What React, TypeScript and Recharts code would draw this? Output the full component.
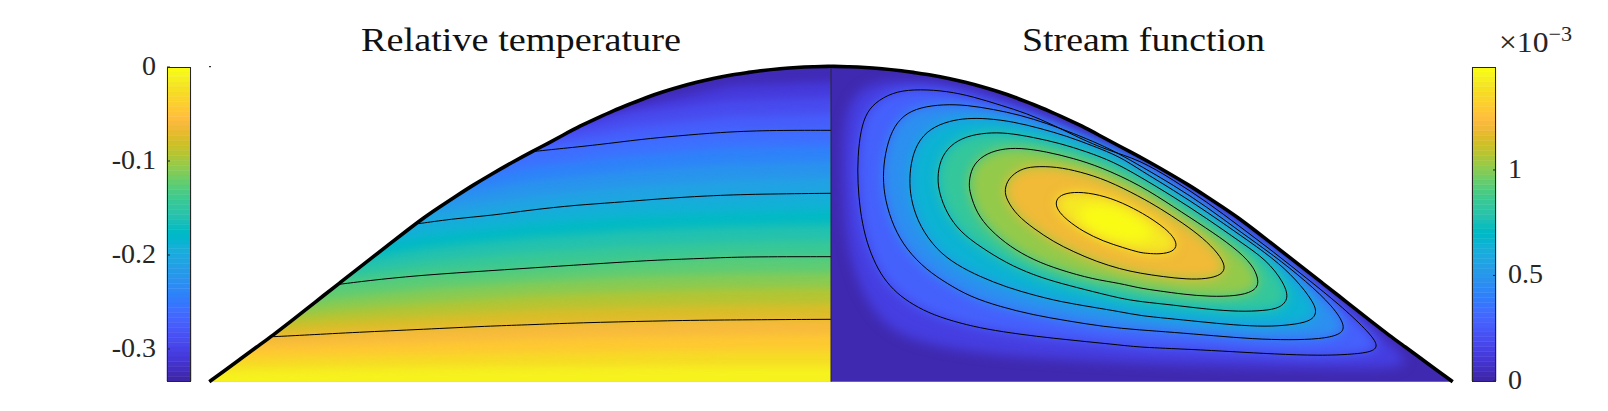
import React from 'react';
import { BarChart, Bar, ScatterChart, Scatter, XAxis, YAxis, Curve } from 'recharts';

type Pair = number[];
const FONT = '"Liberation Serif", serif';
const INK = '#262626';

// parula, as MATLAB ships it
const parula: Pair[] = [
  [0.2422, 0.1504, 0.6603], [0.2504, 0.165, 0.7076], [0.2578, 0.1818, 0.7511], [0.2647, 0.1978, 0.7952],
  [0.2706, 0.2147, 0.8364], [0.2751, 0.2342, 0.871], [0.2783, 0.2559, 0.8991], [0.2803, 0.2782, 0.9221],
  [0.2813, 0.3006, 0.9414], [0.281, 0.3228, 0.9579], [0.2795, 0.3447, 0.9717], [0.276, 0.3667, 0.9829],
  [0.2699, 0.3892, 0.9906], [0.2602, 0.4123, 0.9952], [0.244, 0.4358, 0.9988], [0.2206, 0.4603, 0.9973],
  [0.1963, 0.4847, 0.9892], [0.1834, 0.5074, 0.9798], [0.1786, 0.5289, 0.9682], [0.1764, 0.5499, 0.952],
  [0.1687, 0.5703, 0.9359], [0.154, 0.5902, 0.9218], [0.146, 0.6091, 0.9079], [0.138, 0.6276, 0.8973],
  [0.1248, 0.6459, 0.8883], [0.1113, 0.6635, 0.8763], [0.0952, 0.6798, 0.8598], [0.0689, 0.6948, 0.8394],
  [0.0297, 0.7082, 0.8163], [0.0036, 0.7203, 0.7917], [0.0067, 0.7312, 0.766], [0.0433, 0.7411, 0.7394],
  [0.0964, 0.75, 0.712], [0.1408, 0.7584, 0.6842], [0.1717, 0.767, 0.6554], [0.1938, 0.7758, 0.6251],
  [0.2161, 0.7843, 0.5923], [0.247, 0.7918, 0.5567], [0.2906, 0.7973, 0.5188], [0.3406, 0.8008, 0.4789],
  [0.3909, 0.8029, 0.4354], [0.4456, 0.8024, 0.3909], [0.5044, 0.7993, 0.348], [0.5616, 0.7942, 0.3045],
  [0.6174, 0.7876, 0.2612], [0.672, 0.7793, 0.2227], [0.7242, 0.7698, 0.191], [0.7738, 0.7598, 0.1646],
  [0.8203, 0.7498, 0.1535], [0.8634, 0.7406, 0.1596], [0.9035, 0.733, 0.1774], [0.9393, 0.7288, 0.21],
  [0.9728, 0.7298, 0.2394], [0.9956, 0.7434, 0.2371], [0.997, 0.7659, 0.2199], [0.9952, 0.7861, 0.1991],
  [0.9892, 0.8086, 0.1817], [0.9786, 0.8323, 0.1641], [0.9676, 0.8555, 0.148], [0.961, 0.8787, 0.1347],
  [0.9597, 0.906, 0.1423], [0.9628, 0.9373, 0.1265], [0.9691, 0.9606, 0.1064], [0.9769, 0.9839, 0.0805],
];

// upper boundary of the domain, left half (the right half mirrors it)
const domeLeft: Pair[] = [
  [-6.217, 0], [-6.077, 0.1], [-5.91, 0.224], [-5.743, 0.347], [-5.577, 0.467], [-5.41, 0.597], [-5.243, 0.727],
  [-5.077, 0.86], [-4.91, 0.99], [-4.743, 1.12], [-4.577, 1.25], [-4.41, 1.38], [-4.243, 1.51], [-4.077, 1.637],
  [-3.91, 1.75], [-3.743, 1.86], [-3.577, 1.967], [-3.41, 2.067], [-3.177, 2.2], [-2.993, 2.3], [-2.843, 2.377],
  [-2.677, 2.467], [-2.51, 2.557], [-2.343, 2.634], [-2.177, 2.71], [-2.01, 2.777], [-1.843, 2.844], [-1.677, 2.9],
  [-1.51, 2.95], [-1.343, 2.994], [-1.177, 3.034], [-1.01, 3.067], [-0.843, 3.09], [-0.677, 3.114], [-0.51, 3.13],
  [-0.343, 3.144], [-0.177, 3.15], [0, 3.154],
];

// temperature isotherm heights at these stations, dome top to floor
const isoStations = [0, -1, -2, -3, -4, -5, -6.4];
const isoHeights: number[][] = [
  [2.995, 2.96, 2.75, 2.5, 2.1, 1.6, 1.0],
  [2.84, 2.81, 2.68, 2.45, 2.1, 1.6, 1.0],
  [2.68, 2.65, 2.55, 2.38, 2.05, 1.6, 1.0],
  [2.514, 2.5, 2.413, 2.31, 2.02, 1.55, 1.0],
  [2.355, 2.34, 2.26, 2.15, 1.95, 1.5, 1.0],
  [2.2, 2.18, 2.11, 2.01, 1.84, 1.45, 0.95],
  [2.04, 2.02, 1.96, 1.86, 1.72, 1.42, 0.9],
  [1.884, 1.844, 1.804, 1.717, 1.6, 1.35, 0.9],
  [1.725, 1.7, 1.66, 1.58, 1.47, 1.28, 0.85],
  [1.57, 1.55, 1.51, 1.44, 1.34, 1.18, 0.8],
  [1.41, 1.39, 1.35, 1.29, 1.2, 1.06, 0.75],
  [1.25, 1.244, 1.2, 1.134, 1.074, 0.98, 0.7],
  [1.09, 1.08, 1.05, 1.0, 0.93, 0.83, 0.6],
  [0.94, 0.93, 0.9, 0.86, 0.79, 0.71, 0.55],
  [0.78, 0.77, 0.75, 0.72, 0.66, 0.6, 0.5],
  [0.624, 0.62, 0.6, 0.573, 0.53, 0.484, 0.42],
  [0.47, 0.465, 0.45, 0.43, 0.4, 0.37, 0.33],
  [0.31, 0.31, 0.3, 0.285, 0.27, 0.25, 0.22],
  [0.155, 0.155, 0.15, 0.145, 0.14, 0.13, 0.11],
];

// the four drawn temperature contours
const tempLine1: Pair[] = [[-2.993, 2.3], [-2.743, 2.327], [-2.343, 2.367], [-1.877, 2.427], [-1.543, 2.457], [-1.11, 2.494], [-0.643, 2.514], [0, 2.514]];
const tempLine2: Pair[] = [[-4.127, 1.58], [-3.743, 1.634], [-3.41, 1.66], [-3.01, 1.717], [-2.543, 1.767], [-2.177, 1.79], [-1.743, 1.827], [-1.243, 1.86], [-0.71, 1.877], [0, 1.884]];
const tempLine3: Pair[] = [[-4.917, 0.974], [-4.577, 1.017], [-4.077, 1.067], [-3.41, 1.11], [-2.81, 1.15], [-2.177, 1.19], [-1.743, 1.217], [-1.243, 1.234], [-0.877, 1.25], [0, 1.25]];
const tempLine4: Pair[] = [[-5.577, 0.45], [-5.243, 0.467], [-4.743, 0.494], [-4.077, 0.524], [-3.41, 0.557], [-3.077, 0.567], [-2.51, 0.59], [-1.743, 0.607], [-1.243, 0.617], [0, 0.624]];

// faint shading level outside the first drawn stream contour
const streamShade: Pair[] = [
  [0.12, 2.0], [0.12, 2.6], [0.25, 2.95], [0.7, 3.04], [1.4, 2.95], [2.2, 2.65], [3.09, 2.25], [3.76, 1.85], [4.42, 1.36],
  [5.09, 0.82], [5.6, 0.38], [5.85, 0.14], [5.3, 0.13], [4.4, 0.14], [3.4, 0.17], [2.4, 0.22], [1.6, 0.27], [1.0, 0.36],
  [0.6, 0.5], [0.35, 0.8], [0.2, 1.2], [0.14, 1.6],
];

const stream1: Pair[] = [
  [0.267, 1.984], [0.267, 2.25], [0.297, 2.517], [0.357, 2.7], [0.473, 2.817], [0.657, 2.907], [0.89, 2.924], [1.157, 2.907],
  [1.423, 2.85], [1.69, 2.767], [1.957, 2.684], [2.223, 2.567], [2.49, 2.434], [2.757, 2.317], [3.09, 2.217], [3.423, 2.017],
  [3.757, 1.8], [4.09, 1.55], [4.423, 1.3], [4.757, 1.034], [5.09, 0.767], [5.357, 0.517], [5.477, 0.367], [5.423, 0.3],
  [5.223, 0.274], [4.89, 0.26], [4.423, 0.277], [4.023, 0.3], [3.59, 0.324], [3.09, 0.344], [2.89, 0.367], [2.557, 0.4],
  [2.223, 0.434], [1.89, 0.474], [1.557, 0.524], [1.29, 0.584], [1.023, 0.667], [0.823, 0.767], [0.657, 0.884], [0.523, 1.034],
  [0.423, 1.217], [0.34, 1.45], [0.29, 1.717],
];
const stream2: Pair[] = [
  [0.517, 2.05], [0.54, 2.284], [0.607, 2.517], [0.723, 2.667], [0.89, 2.744], [1.123, 2.774], [1.357, 2.767], [1.623, 2.724],
  [1.89, 2.667], [2.157, 2.584], [2.423, 2.484], [2.69, 2.374], [2.89, 2.274], [3.09, 2.16], [3.423, 1.967], [3.757, 1.75],
  [4.09, 1.5], [4.423, 1.267], [4.757, 1.0], [5.023, 0.75], [5.15, 0.55], [5.09, 0.467], [4.89, 0.427], [4.59, 0.417],
  [4.223, 0.427], [3.823, 0.46], [3.423, 0.494], [3.09, 0.517], [2.723, 0.55], [2.357, 0.61], [2.023, 0.667], [1.69, 0.75],
  [1.39, 0.85], [1.157, 0.984], [0.957, 1.117], [0.757, 1.317], [0.623, 1.55], [0.54, 1.817],
];
const stream3: Pair[] = [
  [0.783, 1.984], [0.797, 2.184], [0.857, 2.384], [0.99, 2.534], [1.19, 2.61], [1.357, 2.634], [1.557, 2.634], [1.823, 2.6],
  [2.09, 2.534], [2.357, 2.457], [2.623, 2.357], [2.89, 2.25], [3.09, 2.117], [3.423, 1.917], [3.757, 1.7], [4.09, 1.467],
  [4.423, 1.234], [4.657, 1.017], [4.823, 0.8], [4.863, 0.684], [4.79, 0.6], [4.59, 0.567], [4.357, 0.55], [4.023, 0.567],
  [3.69, 0.6], [3.357, 0.634], [3.09, 0.66], [2.89, 0.7], [2.623, 0.744], [2.29, 0.8], [2.023, 0.867], [1.757, 0.944],
  [1.49, 1.05], [1.257, 1.167], [1.057, 1.317], [0.89, 1.55], [0.807, 1.784],
];
const stream4: Pair[] = [
  [1.063, 2.034], [1.09, 2.217], [1.19, 2.367], [1.357, 2.457], [1.557, 2.49], [1.757, 2.49], [2.023, 2.444], [2.29, 2.384],
  [2.557, 2.3], [2.823, 2.2], [3.09, 2.05], [3.423, 1.85], [3.757, 1.634], [4.09, 1.4], [4.357, 1.217], [4.523, 1.0],
  [4.583, 0.834], [4.49, 0.734], [4.323, 0.71], [4.09, 0.7], [3.757, 0.724], [3.423, 0.767], [3.09, 0.8], [2.89, 0.834],
  [2.623, 0.9], [2.29, 0.984], [2.023, 1.067], [1.757, 1.184], [1.49, 1.35], [1.29, 1.5], [1.157, 1.684], [1.083, 1.884],
];
const stream5: Pair[] = [
  [1.377, 1.984], [1.407, 2.15], [1.523, 2.267], [1.69, 2.327], [1.89, 2.34], [2.157, 2.3], [2.423, 2.234], [2.69, 2.15],
  [3.09, 1.967], [3.423, 1.75], [3.757, 1.534], [4.023, 1.35], [4.223, 1.167], [4.29, 0.984], [4.223, 0.9], [4.057, 0.857],
  [3.79, 0.85], [3.523, 0.874], [3.29, 0.907], [3.09, 0.934], [2.89, 0.984], [2.623, 1.024], [2.29, 1.117], [2.023, 1.217],
  [1.79, 1.35], [1.59, 1.517], [1.457, 1.684], [1.39, 1.884],
];
const stream6: Pair[] = [
  [1.733, 1.917], [1.773, 2.034], [1.89, 2.124], [2.023, 2.154], [2.257, 2.15], [2.49, 2.1], [2.757, 2.017], [3.09, 1.85],
  [3.29, 1.734], [3.523, 1.584], [3.723, 1.434], [3.873, 1.284], [3.95, 1.15], [3.907, 1.067], [3.757, 1.027], [3.557, 1.024],
  [3.323, 1.05], [3.09, 1.084], [2.89, 1.127], [2.657, 1.2], [2.423, 1.3], [2.223, 1.4], [2.023, 1.534], [1.857, 1.667], [1.757, 1.817],
];
const stream7: Pair[] = [
  [2.243, 1.8], [2.29, 1.867], [2.423, 1.9], [2.623, 1.884], [2.857, 1.817], [3.09, 1.7], [3.223, 1.617], [3.34, 1.534],
  [3.423, 1.45], [3.463, 1.367], [3.423, 1.3], [3.29, 1.274], [3.157, 1.284], [3.09, 1.29], [2.923, 1.34], [2.723, 1.404],
  [2.523, 1.5], [2.357, 1.617], [2.263, 1.717],
];
const streamPeak: Pair[] = [[2.4, 1.72], [2.7, 1.8], [3.05, 1.66], [3.3, 1.44], [3.0, 1.38], [2.6, 1.5]];

const tempTicks = [0, -0.1, -0.2, -0.3];
const streamTicks = [0, 0.5, 1];
const TEMP_MIN = -0.3346;
const STREAM_MAX = 1.488;

const toPts = (pairs: Pair[]) => pairs.map(([x, y]) => ({ x, y }));

const colourAt = (f: number) => {
  const pos = Math.min(Math.max(f, 0), 1) * (parula.length - 1);
  const i = Math.min(Math.floor(pos), parula.length - 2);
  const t = pos - i;
  const c = [0, 1, 2].map((n) => Math.round(255 * (parula[i][n] * (1 - t) + parula[i + 1][n] * t)));
  return `rgb(${c[0]},${c[1]},${c[2]})`;
};

const domeRight = [...domeLeft].reverse().map(([x, y]) => [-x, y]);
const noDot = () => <g />;

// a closed filled region, clipped to one half of the dome
const region = (key: string, pairs: Pair[], fill: string, clip: string, blur: string | null, type: string) => (
  <Scatter
    key={key}
    data={toPts(pairs)}
    shape={noDot}
    isAnimationActive={false}
    line={(p: any) => (
      <g clipPath={`url(#${clip})`}>
        <g filter={blur ? `url(#${blur})` : undefined}>
          <Curve type={type as any} points={p.points} fill={fill} stroke="none" />
        </g>
      </g>
    )}
  />
);

const outline = (key: string, pairs: Pair[], width: number, type: string, stroke = '#000') => (
  <Scatter
    key={key}
    data={toPts(pairs)}
    shape={noDot}
    isAnimationActive={false}
    line={(p: any) => <Curve type={type as any} points={p.points} fill="none" stroke={stroke} strokeWidth={width} />}
  />
);

const clipShape = (id: string, pairs: Pair[]) => (
  <Scatter
    key={id}
    data={toPts(pairs)}
    shape={noDot}
    isAnimationActive={false}
    line={(p: any) => (
      <clipPath id={id}>
        <Curve type="linearClosed" points={p.points} />
      </clipPath>
    )}
  />
);

const blurFilter = (id: string, sd: number) => (
  <filter id={id} filterUnits="userSpaceOnUse" x="0" y="0" width="1608" height="411" colorInterpolationFilters="sRGB">
    <feGaussianBlur stdDeviation={sd} />
  </filter>
);

const isoPolygon = (row: number[]): Pair[] => [
  [0.3, row[0]],
  ...row.map((y, i) => [isoStations[i], y]),
  [-6.4, -0.2],
  [0.3, -0.2],
];

const streamLevels: { pts: Pair[]; f: number; blur: string }[] = [
  { pts: streamShade, f: 0.085, blur: 'blurR' },
  { pts: stream1, f: 0.185, blur: 'blurR' },
  { pts: stream2, f: 0.3125, blur: 'blurR' },
  { pts: stream3, f: 0.4375, blur: 'blurR' },
  { pts: stream4, f: 0.5625, blur: 'blurR' },
  { pts: stream5, f: 0.6875, blur: 'blurR' },
  { pts: stream6, f: 0.8125, blur: 'blurR' },
  { pts: stream7, f: 0.955, blur: 'blurR' },
  { pts: streamPeak, f: 1, blur: 'blurR' },
];

const barKeys = parula.map((_, i) => `s${i}`);
const tempRow = [Object.fromEntries(barKeys.map((k) => [k, TEMP_MIN / parula.length]))];
const streamRow = [Object.fromEntries(barKeys.map((k) => [k, STREAM_MAX / parula.length]))];

const tickFont = { fontSize: 28, fontFamily: FONT, fill: INK, dy: -2 };

const box = (left: number, top: number, width: number, height: number) => (
  <div style={{ position: 'absolute', left, top, width, height, border: `1px solid ${INK}`, boxSizing: 'border-box' }} />
);

export default function App() {
  return (
    <div style={{ position: 'absolute', left: 0, top: 0, width: 1608, height: 411, overflow: 'hidden', background: '#fff' }}>
      <div style={{ position: 'absolute', left: 0, top: 0 }}>
        <ScatterChart width={1608} height={411} margin={{ left: 181, right: 127, top: 51.7, bottom: 9.3 }}>
          <defs>
            {blurFilter('blurL', 4.5)}
            {blurFilter('blurR', 6)}
          </defs>
          <XAxis type="number" dataKey="x" domain={[-6.5, 6.5]} hide />
          <YAxis type="number" dataKey="y" domain={[-0.2, 3.3]} hide />
          {clipShape('halfL', [...domeLeft, [0, 0]])}
          {clipShape('halfR', [...domeRight, [0, 0]])}
          {region('baseL', [[-6.5, -0.2], [-6.5, 3.3], [0.3, 3.3], [0.3, -0.2]], colourAt(0.02), 'halfL', null, 'linearClosed')}
          {isoHeights.map((row, k) =>
            region(`iso${k}`, isoPolygon(row), colourAt((k + 1.5) / 20), 'halfL', 'blurL', 'linearClosed'),
          )}
          {region('baseR', [[-0.3, -0.2], [-0.3, 3.3], [6.5, 3.3], [6.5, -0.2]], colourAt(0.01), 'halfR', null, 'linearClosed')}
          {streamLevels.map((lv, k) => region(`st${k}`, lv.pts, colourAt(lv.f), 'halfR', lv.blur, 'basisClosed'))}
          {[tempLine1, tempLine2, tempLine3, tempLine4].map((l, k) => outline(`tl${k}`, l, 1, 'basis'))}
          {[stream1, stream2, stream3, stream4, stream5, stream6, stream7].map((l, k) =>
            outline(`sl${k}`, l, 1, 'basisClosed'),
          )}
          {outline('axisLine', [[0, 0], [0, 3.154]], 1, 'linear', INK)}
          {outline('domeL', domeLeft, 3.6, 'basis')}
          {outline('domeR', domeRight, 3.6, 'basis')}
          {outline('cornerTick', [[-6.22, 3.15], [-6.2, 3.15]], 1, 'linear')}
          <text x={361} y={51} fontFamily={FONT} fontSize={33} fill="#111" textLength={320} lengthAdjust="spacingAndGlyphs">
            Relative temperature
          </text>
          <text x={1022} y={51} fontFamily={FONT} fontSize={33} fill="#111" textLength={243} lengthAdjust="spacingAndGlyphs">
            Stream function
          </text>
          <text x={1499} y={52} fontFamily={FONT} fontSize={30} fill={INK} textLength={73} lengthAdjust="spacingAndGlyphs">
            ×10<tspan dy={-11} fontSize={21}>−3</tspan>
          </text>
        </ScatterChart>
      </div>

      <div style={{ position: 'absolute', left: 0, top: 0 }}>
        <BarChart
          width={300}
          height={411}
          data={tempRow}
          barCategoryGap={0}
          margin={{ left: 107, right: 109, top: 67, bottom: 29.5 }}
        >
          <XAxis hide />
          <YAxis
            type="number"
            width={60}
            domain={[TEMP_MIN, 0]}
            ticks={tempTicks}
            interval={0}
            allowDataOverflow
            axisLine={false}
            tickSize={-3}
            tickMargin={14}
            tickLine={{ stroke: INK }}
            tick={tickFont}
          />
          {barKeys.map((k, i) => (
            <Bar key={k} dataKey={k} stackId="t" fill={colourAt(1 - i / (parula.length - 1))} stroke={colourAt(1 - i / (parula.length - 1))} strokeWidth={0.5} isAnimationActive={false} />
          ))}
        </BarChart>
      </div>
      {box(167, 67, 24, 315)}

      <div style={{ position: 'absolute', left: 1400, top: 0 }}>
        <BarChart
          width={208}
          height={411}
          data={streamRow}
          barCategoryGap={0}
          margin={{ left: 72, right: 52, top: 67, bottom: 30 }}
        >
          <XAxis hide />
          <YAxis
            type="number"
            orientation="right"
            width={60}
            domain={[0, STREAM_MAX]}
            ticks={streamTicks}
            interval={0}
            allowDataOverflow
            axisLine={false}
            tickSize={-3}
            tickMargin={15}
            tickLine={{ stroke: INK }}
            tick={tickFont}
          />
          {barKeys.map((k, i) => (
            <Bar key={k} dataKey={k} stackId="s" fill={colourAt(i / (parula.length - 1))} stroke={colourAt(i / (parula.length - 1))} strokeWidth={0.5} isAnimationActive={false} />
          ))}
        </BarChart>
      </div>
      {box(1472, 67, 24, 315)}
    </div>
  );
}
